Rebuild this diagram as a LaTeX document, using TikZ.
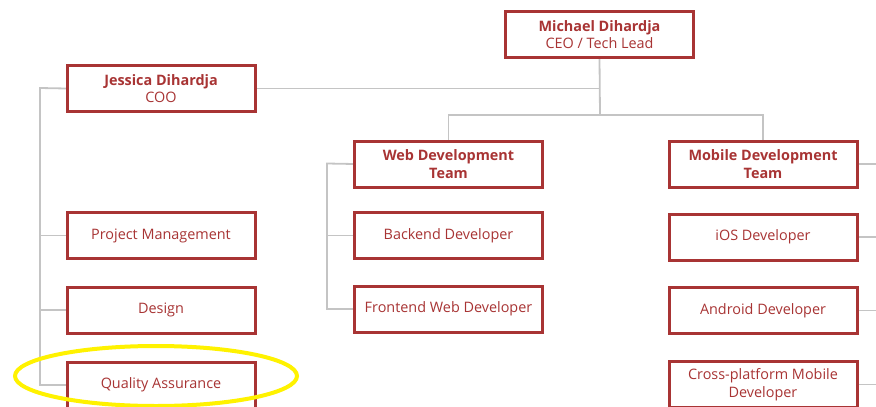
\documentclass[tikz,border=0pt]{standalone}
\usepackage{fontspec}
\setmainfont{Open Sans}
\definecolor{boxred}{HTML}{A83434}
\definecolor{linegray}{HTML}{C4C4C4}
\definecolor{hilite}{HTML}{FFF200}
\begin{document}
\begin{tikzpicture}[x=1pt,y=-1pt,
  box/.style={draw=boxred,line width=2pt,fill=white,minimum width=187pt,minimum height=45pt,
    inner sep=2pt,align=center,text=boxred,font=\fontsize{14.4}{17.5}\selectfont},
  conn/.style={draw=linegray,line width=1.8pt}]
\useasboundingbox (0,0) rectangle (876,407);
\clip (0,0) rectangle (876,407);
% nodes
\node[box] (ceo) at (599.5,34.5) {\textbf{Michael Dihardja}\\CEO / Tech Lead};
\node[box] (coo) at (161,88.5) {\textbf{Jessica Dihardja}\\COO};
\node[box] (web) at (448.5,164) {\textbf{Web Development}\\\textbf{Team}};
\node[box] (mob) at (763,164) {\textbf{Mobile Development}\\\textbf{Team}};
\node[box] (pm) at (161,235.5) {Project Management};
\node[box] (des) at (161,310) {Design};
\node[box] (qa) at (161,385) {Quality Assurance};
\node[box] (be) at (448.5,235.5) {Backend Developer};
\node[box] (fe) at (448.5,309) {Frontend Web Developer};
\node[box] (ios) at (763,237) {iOS Developer};
\node[box] (and) at (763,310.5) {Android Developer};
\node[box] (cross) at (763,384.5) {Cross-platform Mobile\\Developer};
% helper coordinates
\coordinate (hub) at (600,115);
\coordinate (ltrunk) at (40,88);
\coordinate (wtrunk) at (327,163.5);
\coordinate (redge) at (876,0);
% connectors
\draw[conn] (ceo.south) -- (hub);
\draw[conn] (coo.east) -- (coo.east -| hub);
\draw[conn] (web.north) |- (hub) -| (mob.north);
\draw[conn] (coo.west) -- (ltrunk) |- (qa.west);
\draw[conn] (ltrunk |- pm.west) -- (pm.west);
\draw[conn] (ltrunk |- des.west) -- (des.west);
\draw[conn] (web.west) -- (wtrunk) |- (fe.west);
\draw[conn] (wtrunk |- be.west) -- (be.west);
\draw[conn] (mob.east) -- (mob.east -| redge);
\draw[conn] (ios.east) -- (ios.east -| redge);
\draw[conn] (and.east) -- (and.east -| redge);
\draw[conn] (cross.east) -- (cross.east -| redge);
% redraw box borders over connectors
\foreach \n in {ceo,coo,web,mob,pm,des,qa,be,fe,ios,and,cross}{
  \draw[draw=boxred,line width=2pt] (\n.north west) rectangle (\n.south east);
}
% highlight ellipse
\draw[hilite,line width=4pt] (156,376) ellipse [x radius=141pt,y radius=30pt];
\end{tikzpicture}
\end{document}
